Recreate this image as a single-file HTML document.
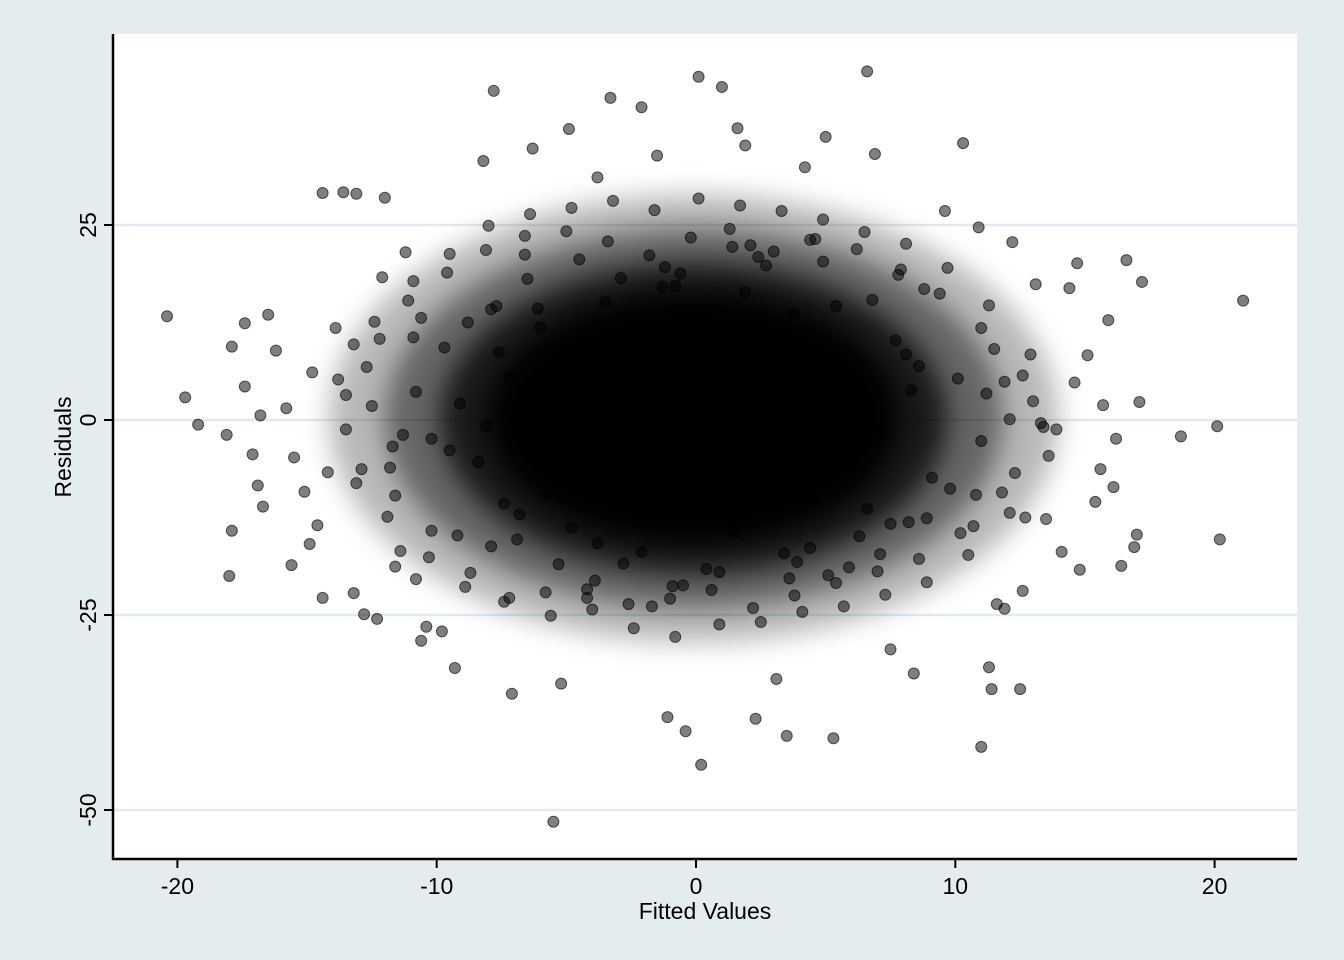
<!DOCTYPE html>
<html><head><meta charset="utf-8"><style>
html,body{margin:0;padding:0;background:#e4eced;}
svg{display:block;font-family:"Liberation Sans",Arial,sans-serif;}
</style></head><body>
<svg id="chart" width="1344" height="960" viewBox="0 0 1344 960">
<defs><filter id="soft" x="-30%" y="-30%" width="160%" height="160%"><feGaussianBlur stdDeviation="13"/></filter></defs>
<rect x="0" y="0" width="1344" height="960" fill="#e4eced"/>
<rect x="113" y="34" width="1184" height="825" fill="#ffffff"/>
<g id="grid"></g><g id="core" filter="url(#soft)"></g><g id="pts"></g><g id="axes"></g>
<text x="705" y="919" font-size="23" text-anchor="middle">Fitted Values</text>
<text transform="translate(71,447) rotate(-90)" font-size="23" text-anchor="middle">Residuals</text>
</svg>
<script>
const xTicks=[-20,-10,0,10,20];
const yTicks=[25,0,-25,-50];
const outX=[-20.4,-19.7,-19.2,-18.1,-18,-17.9,-17.4,-16.5,21.1,20.1,20.2,18.7,17,16.6,17.2,17.1,-5.5,0.2,11,6.6,0.1,1,-7.8,-3.3,-2.1,10.3,5,-4.9,1.6,3.5,5.3,-0.4,-1.1,2.3,11.4,12.5,11.3,-14.4,-13.6,-13.1,-12,-15.6,-14.4,-13.2,-12.8,-12.3,-10.6,-9.3,14.1,16.4,16.9,14.4,14.7,14.8,-17.9,-16.7,-16.8,-17.4,-16.2,-15.5,-15.1,-14.8,-14.6,-14.2,-13.9,-15.8,-16.9,-17.1,-14.9,-13.5,15.6,15.9,16.2,15.1,15.4,14.6,13.9,13.5,16.1,15.7,-12.1,-11.6,-11.2,-10.8,12.2,12.6,13.1,11.9,-8.2,-6.3,-3.8,-1.5,1.9,4.2,6.9,8.4,-7.1,-5.2,3.1,7.5,9.6,-9.8,-10.4,10.9,11.6];
const outY=[13.3,2.9,-0.6,-1.9,-20,9.4,12.4,13.5,15.3,-0.8,-15.3,-2.1,-14.7,20.5,17.7,2.3,-51.5,-44.2,-41.9,44.7,44,42.7,42.2,41.3,40.1,35.5,36.3,37.3,37.4,-40.5,-40.8,-39.9,-38.1,-38.3,-34.5,-34.5,-31.7,29.1,29.2,29,28.5,-18.6,-22.8,-22.2,-24.9,-25.5,-28.3,-31.8,-16.9,-18.7,-16.3,16.9,20.1,-19.2,-14.2,-11.1,0.6,4.3,8.9,-4.8,-9.2,6.1,-13.5,-6.7,11.8,1.5,-8.4,-4.4,-15.9,3.2,-6.3,12.8,-2.4,8.3,-10.5,4.8,-1.2,-12.7,-8.6,1.9,18.3,-18.8,21.5,-20.4,22.8,-21.9,17.4,-24.2,33.2,34.8,31.1,33.9,35.2,32.4,34.1,-32.5,-35.1,-33.8,-33.2,-29.4,26.8,-27.1,-26.5,24.7,-23.6];
const midX=[-13.8,-13.1,-12.4,-11.7,-10.9,-10.2,-9.5,-8.7,-8,-7.2,-6.4,-5.6,-4.8,-4,-3.2,-2.4,-1.6,-0.8,0.1,0.9,1.7,2.5,3.3,4.1,4.9,5.7,6.5,7.3,8.1,8.9,9.7,10.5,11.3,12.1,12.9,13.6,-13.5,-12.7,-11.9,-11.1,-10.3,-9.6,-8.9,-8.1,-7.4,-6.6,-5.8,-5,-4.2,-3.4,-2.6,-1.8,-1,-0.2,0.6,1.4,2.2,3,3.8,4.6,5.4,6.2,7,7.8,8.6,9.4,10.2,11,11.8,12.6,13.4,-12.9,-12.2,-11.4,-10.6,10.7,11.5,12.3,13,-12.5,-11.6,-10.8,11,11.9,12.7,-13.2,13.3,-9.2,-7.7,-5.3,-2.9,-0.5,2.7,5.9,8.8,-6.9,-1.3,3.6,7.1,-4.5,0.4,4.4];
const midY=[5.2,-8.1,12.6,-3.4,17.8,-14.2,21.3,-19.6,24.9,-22.8,26.4,-25.1,27.2,-24.3,28.1,-26.7,26.9,-27.8,28.4,-26.2,27.5,-25.9,26.8,-24.6,25.7,-23.9,24.1,-22.4,22.6,-20.8,19.5,-17.3,14.7,-11.9,8.4,-4.6,-1.2,6.8,-12.4,15.3,-17.6,18.9,-21.4,21.8,-23.3,23.6,-22.1,24.2,-21.7,22.9,-23.6,21.1,-22.9,23.4,-21.8,22.2,-24.1,21.6,-22.5,23.2,-20.9,21.9,-19.4,18.6,-17.8,16.2,-14.5,11.8,-9.3,5.7,-0.9,-6.3,10.4,-16.8,13.1,-13.6,9.1,-6.8,2.4,1.8,-9.7,3.6,-2.7,4.9,-12.5,9.7,-0.4,-14.8,14.6,-18.5,18.2,-21.2,19.8,-18.9,16.8,-15.3,17.1,-20.3,-17.2,20.6,-19.1,-16.4];
const coreX=[-9.1,-8.4,-7.6,-6.8,-6.1,-5.3,-4.6,-3.8,-3.1,-2.3,-1.6,-0.8,0,0.7,1.5,2.2,3,3.8,4.5,5.2,6,6.8,7.5,8.3,9.1,-8.8,-7.9,-6.5,-5.7,-4.1,-2.8,-1.2,0.4,1.9,3.4,4.9,6.3,7.7,8.9,-9.5,-8.1,-7.2,-5.9,-4.4,-3.3,-1.9,-0.3,1.1,2.6,4,5.6,7.1,8.6,9.8,-10.2,-9.7,-7.4,-6,-4.8,-3.5,-2.1,-0.6,0.9,2.4,3.9,5.4,6.6,8.1,10.1,-6.6,-3.9,-0.9,2.1,5.1,7.9,-5,-1.4,1.8,4.6,-2.6,0.2,3.2,-11.3,-10.9,11.2,10.8,-11.8,12.1,-4.2,4.4,-7.9,8.2,-1.7,1.3];
const coreY=[2.1,-5.4,8.7,-12.1,14.3,-3.2,6.5,-15.8,11.1,0.4,-8.9,17.2,-1.3,9.8,-14.4,4.2,-6.7,13.6,-10.2,7.1,-2.5,15.4,-13.3,3.8,-7.4,12.5,-16.2,18.1,-9.5,1.7,-18.4,19.6,-11.8,16.4,-17.1,20.3,-14.9,10.2,-12.6,-3.9,-0.8,5.6,-6.2,8.3,-4.4,7.6,3.1,-5.8,1.2,-2.9,4.7,-1.6,6.9,-8.8,-2.4,9.3,-10.7,11.9,-13.8,15.1,-16.9,18.8,-19.5,20.9,-18.2,14.6,-11.4,8.4,5.3,21.2,-20.6,-21.3,22.4,-19.9,19.3,0.9,-3.5,2.8,-1.1,-8.1,6.1,-4.9,-1.9,10.6,3.4,-9.6,-6.1,0.1,-22.8,23.1,14.2,-13.1,-23.9,24.5];
const X0=696,XS=25.93,Y0=420,YS=7.8;
const sx=v=>X0+v*XS, sy=v=>Y0-v*YS;
const NS='http://www.w3.org/2000/svg';
function mk(t,a,p){const e=document.createElementNS(NS,t);for(const k in a)e.setAttribute(k,a[k]);p.appendChild(e);return e;}
const grid=document.getElementById('grid'),axes=document.getElementById('axes'),core=document.getElementById('core'),pts=document.getElementById('pts');
yTicks.forEach(t=>{
 const g=mk('line',{x1:114,x2:1297,y1:sy(t),y2:sy(t),stroke:'#e1ebef','stroke-width':2.5},grid);
 
 
 const k=mk('line',{x1:104,x2:113,y1:sy(t),y2:sy(t),stroke:'#000','stroke-width':2},axes);
 
 
 const l=mk('text',{transform:`translate(96,${sy(t)}) rotate(-90)`,'font-size':23,'text-anchor':'middle'},axes);
 l.textContent=t;
 
 
});
xTicks.forEach(t=>{
 const k=mk('line',{x1:sx(t),x2:sx(t),y1:859,y2:868,stroke:'#000','stroke-width':2},axes);
 
 
 const l=mk('text',{x:sx(t),y:894,'font-size':23,'text-anchor':'middle'},axes);
 l.textContent=t;
 
 
});
const ax=mk('path',{d:'M113,34 V859 H1297',fill:'none',stroke:'#000','stroke-width':2.5},axes);


const mean=a=>a.reduce((s,v)=>s+v,0)/a.length;
const sd=a=>{const m=mean(a);return Math.sqrt(mean(a.map(v=>(v-m)*(v-m))));};
const mx=mean(coreX),my=mean(coreY),dx=sd(coreX),dy=sd(coreY);
[[2.3,0.28],[1.95,0.45],[1.6,0.75],[1.3,1]].forEach(([k,o])=>{
 const e=mk('ellipse',{cx:sx(mx),cy:sy(my),rx:k*dx*XS,ry:k*dy*YS,fill:'#000','fill-opacity':o},core);
 
 
});
function dot(x,y){
 const c=mk('circle',{cx:sx(x),cy:sy(y),r:5.5,fill:'rgba(0,0,0,0.5)',stroke:'rgba(0,0,0,0.6)','stroke-width':1},pts);
 
 
}
coreX.forEach((x,i)=>dot(x,coreY[i]));
midX.forEach((x,i)=>dot(x,midY[i]));
outX.forEach((x,i)=>dot(x,outY[i]));
</script>
</body></html>
